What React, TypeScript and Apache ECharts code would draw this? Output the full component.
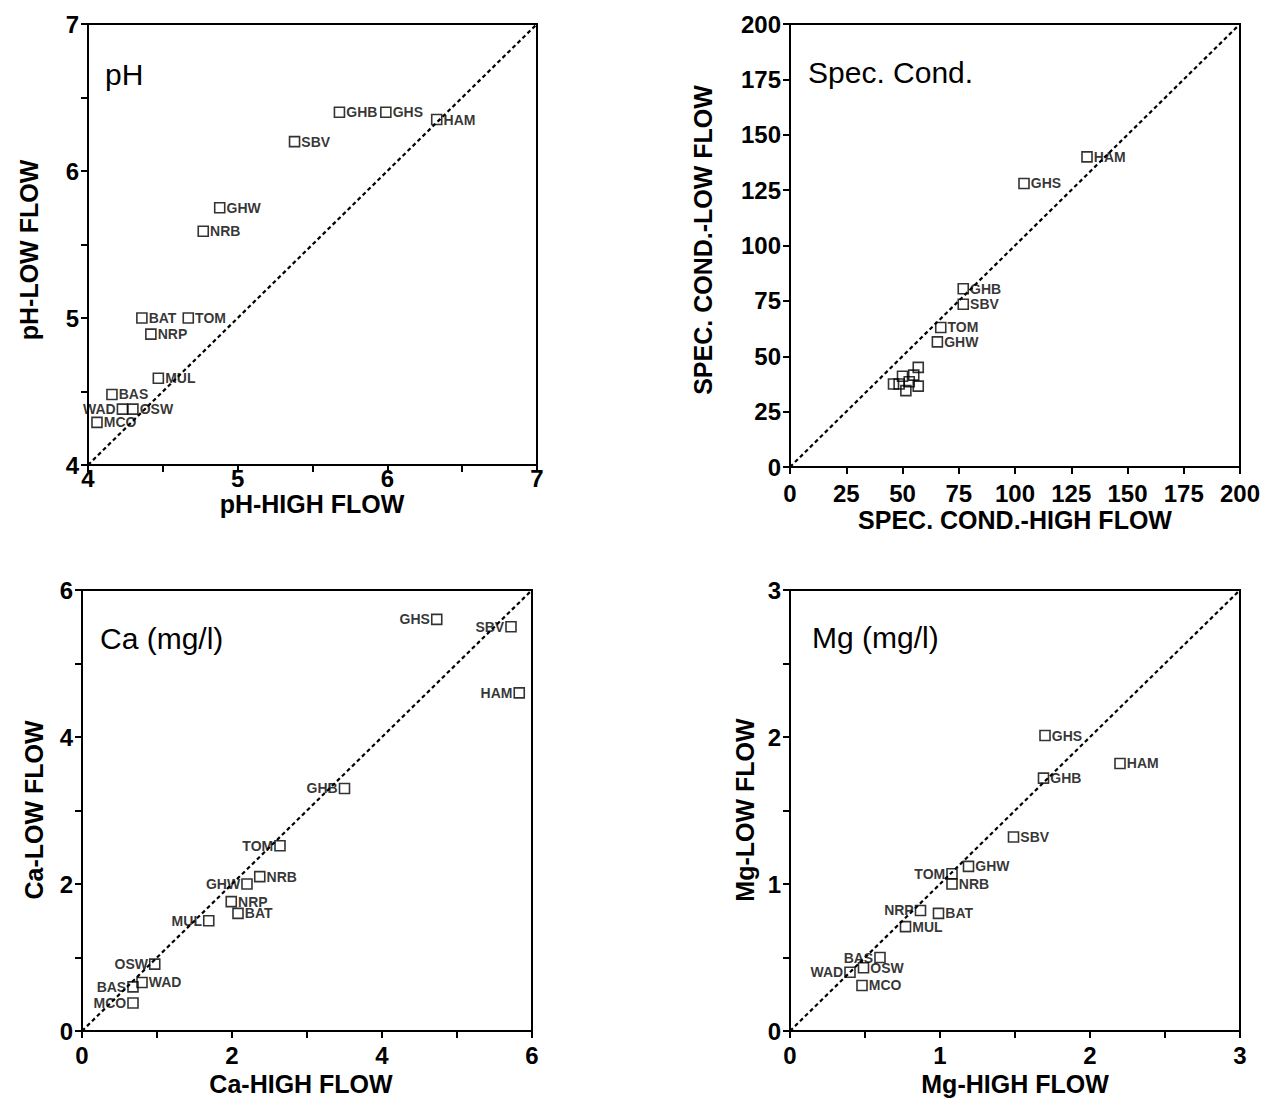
import React, { useEffect, useRef } from "react";
import * as echarts from "echarts";

// Sites (same order in every panel)
const sites = ["GHB", "GHS", "HAM", "SBV", "GHW", "NRB", "BAT", "TOM", "NRP", "MUL", "BAS", "WAD", "OSW", "MCO"];

// pH
const phHigh = [5.68, 5.99, 6.33, 5.38, 4.88, 4.77, 4.36, 4.67, 4.42, 4.47, 4.16, 4.23, 4.3, 4.06];
const phLow = [6.4, 6.4, 6.35, 6.2, 5.75, 5.59, 5.0, 5.0, 4.89, 4.59, 4.48, 4.38, 4.38, 4.29];
const phSide = ["r", "r", "r", "r", "r", "r", "r", "r", "r", "r", "r", "l", "r", "r"];

// Specific conductance
const condHigh = [77, 104, 132, 77, 65.5, 57, 50, 67, 55, 46, 48.5, 53, 57, 51.5];
const condLow = [80.5, 128, 140, 73.5, 56.5, 45, 41, 63, 41.5, 37.5, 37.5, 38.5, 36.5, 34.5];
const condSide = ["r", "r", "r", "r", "r", "n", "n", "r", "n", "n", "n", "n", "n", "n"];

// Calcium
const caHigh = [3.5, 4.73, 5.83, 5.72, 2.2, 2.37, 2.08, 2.64, 1.99, 1.69, 0.68, 0.8, 0.97, 0.68];
const caLow = [3.3, 5.6, 4.6, 5.5, 2.0, 2.1, 1.6, 2.52, 1.76, 1.5, 0.6, 0.66, 0.91, 0.38];
const caSide = ["l", "l", "l", "l", "l", "r", "r", "l", "r", "l", "l", "r", "l", "l"];

// Magnesium
const mgHigh = [1.69, 1.7, 2.2, 1.49, 1.19, 1.08, 0.99, 1.08, 0.87, 0.77, 0.6, 0.4, 0.49, 0.48];
const mgLow = [1.72, 2.01, 1.82, 1.32, 1.12, 1.0, 0.8, 1.07, 0.82, 0.71, 0.5, 0.4, 0.43, 0.31];
const mgSide = ["r", "r", "r", "r", "r", "r", "r", "l", "l", "r", "l", "l", "r", "r"];

// Panel axes
const panelTitles = ["pH", "Spec. Cond.", "Ca (mg/l)", "Mg (mg/l)"];
const xNames = ["pH-HIGH FLOW", "SPEC. COND.-HIGH FLOW", "Ca-HIGH FLOW", "Mg-HIGH FLOW"];
const yNames = ["pH-LOW FLOW", "SPEC. COND.-LOW FLOW", "Ca-LOW FLOW", "Mg-LOW FLOW"];
const axisMin = [4, 0, 0, 0];
const axisMax = [7, 200, 6, 3];
const axisStep = [1, 25, 2, 1];
const minorSplit = [2, 0, 2, 2];

const FONT = "'Liberation Sans', Arial, Helvetica, sans-serif";

const panelX = [phHigh, condHigh, caHigh, mgHigh];
const panelY = [phLow, condLow, caLow, mgLow];
const panelSide = [phSide, condSide, caSide, mgSide];

const grids = [
  { left: 88, top: 24, width: 449, height: 441 },
  { left: 790, top: 24, width: 450, height: 443 },
  { left: 82, top: 590, width: 450, height: 441 },
  { left: 790, top: 590, width: 450, height: 441 },
];

const titlePos = [
  [105, 74],
  [808, 72],
  [100, 638],
  [812, 637],
];
const xNamePos = [
  [312, 504],
  [1015, 520],
  [301, 1084],
  [1015, 1084],
];
const yNamePos = [
  [29, 250],
  [703, 240],
  [34, 810],
  [745, 810],
];
const xLabelMargin = [1, 14, 12, 12];

function buildOption() {
  const xAxis: any[] = [];
  const yAxis: any[] = [];
  const series: any[] = [];
  const graphic: any[] = [];

  for (let p = 0; p < 4; p++) {
    const common = (margin: number) => ({
      gridIndex: p,
      type: "value",
      min: axisMin[p],
      max: axisMax[p],
      interval: axisStep[p],
      axisLine: { show: true, onZero: false, lineStyle: { color: "#000", width: 2 } },
      axisTick: { show: true, length: 7, lineStyle: { color: "#000", width: 2 } },
      minorTick: {
        show: minorSplit[p] > 0,
        splitNumber: minorSplit[p] || 5,
        length: 7,
        lineStyle: { color: "#000", width: 2 },
      },
      splitLine: { show: false },
      minorSplitLine: { show: false },
      axisLabel: {
        color: "#000",
        fontFamily: FONT,
        fontSize: 24,
        fontWeight: "bold",
        margin,
      },
    });
    xAxis.push(common(xLabelMargin[p]));
    yAxis.push(common(9));

    const xs = panelX[p];
    const ys = panelY[p];
    const side = panelSide[p];
    series.push({
      type: "line",
      xAxisIndex: p,
      yAxisIndex: p,
      data: [
        [axisMin[p], axisMin[p]],
        [axisMax[p], axisMax[p]],
      ],
      symbol: "none",
      silent: true,
      lineStyle: { color: "#000", width: 2.2, type: [4, 3] },
      z: 1,
    });
    series.push({
      type: "scatter",
      xAxisIndex: p,
      yAxisIndex: p,
      symbol: "rect",
      symbolSize: 10,
      itemStyle: { color: "rgba(0,0,0,0)", borderColor: "#000", borderWidth: 1.6 },
      z: 3,
      data: sites.map((s, i) => ({
        name: s,
        value: [xs[i], ys[i]],
        label: {
          show: side[i] !== "n",
          position: side[i] === "l" ? "left" : "right",
          distance: 1,
          formatter: "{b}",
          color: "#000",
          fontFamily: FONT,
          fontSize: 14,
          fontWeight: "bold",
        },
      })),
    });

    graphic.push({
      type: "text",
      x: titlePos[p][0],
      y: titlePos[p][1],
      style: {
        text: panelTitles[p],
        fill: "#000",
        font: `30px ${FONT}`,
        align: "left",
        verticalAlign: "middle",
      },
    });
    graphic.push({
      type: "text",
      x: xNamePos[p][0],
      y: xNamePos[p][1],
      style: {
        text: xNames[p],
        fill: "#000",
        font: `bold 25px ${FONT}`,
        align: "center",
        verticalAlign: "middle",
      },
    });
    graphic.push({
      type: "text",
      x: yNamePos[p][0],
      y: yNamePos[p][1],
      rotation: Math.PI / 2,
      style: {
        text: yNames[p],
        fill: "#000",
        font: `bold 25px ${FONT}`,
        align: "center",
        verticalAlign: "middle",
      },
    });
  }

  return {
    animation: false,
    backgroundColor: "#fff",
    grid: grids.map((g) => ({ ...g, show: true, borderColor: "#000", borderWidth: 2, containLabel: false })),
    xAxis,
    yAxis,
    series,
    graphic,
  };
}

export default function App() {
  const ref = useRef<HTMLDivElement>(null);
  useEffect(() => {
    if (!ref.current) return;
    const chart = echarts.init(ref.current, null, { renderer: "svg" });
    chart.setOption(buildOption() as any);
    return () => chart.dispose();
  }, []);
  return (
    <div
      ref={ref}
      style={{ position: "absolute", left: 0, top: 0, width: 1270, height: 1098, background: "#fff" }}
    />
  );
}
